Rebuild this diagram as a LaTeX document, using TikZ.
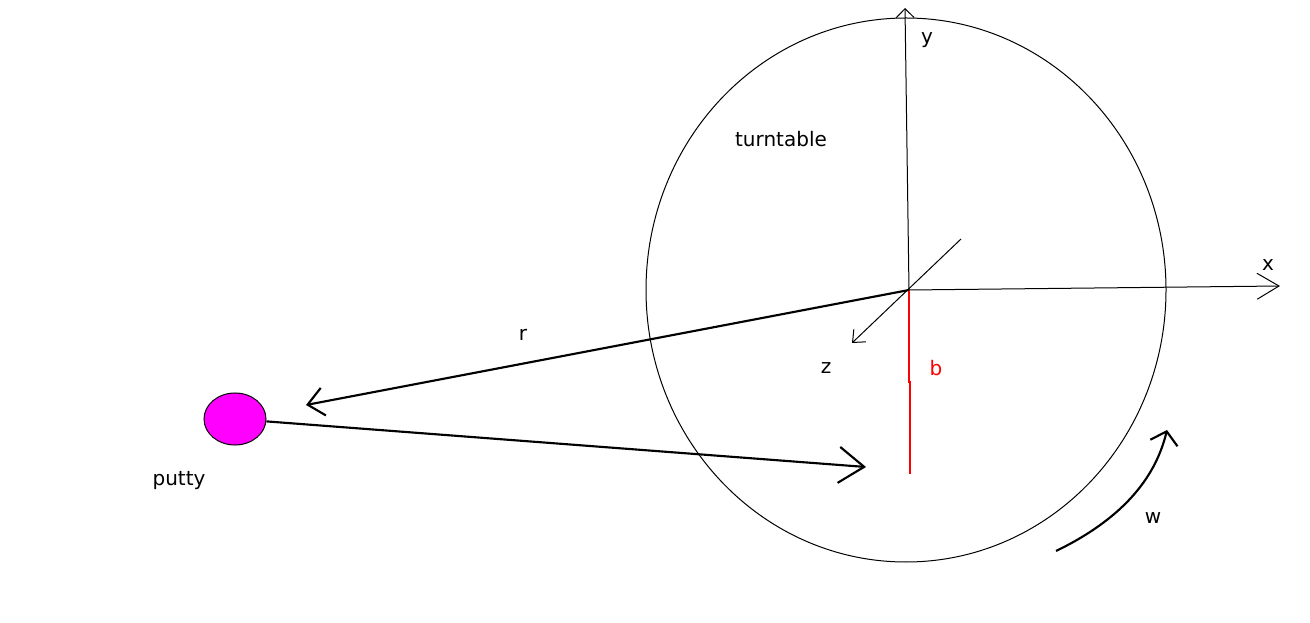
\documentclass[tikz,border=0pt]{standalone}
\usepackage{fontspec}
\setmainfont{DejaVu Sans}
\usetikzlibrary{arrows.meta,shapes.geometric}
\definecolor{putty}{RGB}{255,0,255}
\tikzset{
  lbl/.style={font=\fontsize{15pt}{18pt}\selectfont, inner sep=0pt},
  axis/.style={line width=0.75pt},
  thickvec/.style={line width=1.6pt},
}
\begin{document}
\begin{tikzpicture}[x=0.75pt,y=-0.75pt]
\useasboundingbox (0,0) rectangle (1310,623);
% turntable
\draw[line width=0.75pt] (906,290) ellipse [x radius=260, y radius=272];
\coordinate (O) at (909,290);
\coordinate (ytip) at (905,8);
\coordinate (xtip) at (1280,286);
\coordinate (zback) at (961,239);
\coordinate (ztip) at (852,343);
\coordinate (rtip) at (306,405);
\coordinate (vtip) at (866,467);
% axes
\draw[axis,-{Straight Barb[length=6.75pt,width=13.5pt]}] (O) -- (ytip);
\draw[axis,-{Straight Barb[length=16.5pt,width=19.5pt]}] (O) -- (xtip);
\draw[axis,-{Straight Barb[length=7.5pt,width=13pt]}] (zback) -- (ztip);
% b line
\draw[red,line width=1.6pt] (909,290) -- (909,382) -- (910,382) -- (910,474);
% putty
\node[ellipse, draw=black, fill=putty, minimum width=46.5pt, minimum height=39pt, inner sep=0pt, line width=0.75pt] (putty) at (235,419) {};
% r vector
\draw[thickvec,-{Straight Barb[length=12pt,width=21pt]}] (O) -- (rtip);
% velocity
\draw[thickvec,-{Straight Barb[length=19pt,width=27pt]}] (putty) -- (vtip);
% omega arrow
\coordinate (wstart) at (1056,551);
\coordinate (wtip) at (1167,430);
\draw[thickvec,-{Straight Barb[length=9pt,width=21pt]}] (wstart) .. controls (1120,520) and (1155,480) .. (wtip);
% labels
\node[lbl] (ly) at (927,40) {y};
\node[lbl] (lx) at (1268,265) {x};
\node[lbl] (lz) at (826,368) {z};
\node[lbl] (lr) at (523,335) {r};
\node[lbl,red] (lb) at (936,368) {b};
\node[lbl] (lt) at (781,139) {turntable};
\node[lbl] (lp) at (179,481) {putty};
\node[lbl] (lw) at (1153,518) {w};
\end{tikzpicture}
\end{document}
